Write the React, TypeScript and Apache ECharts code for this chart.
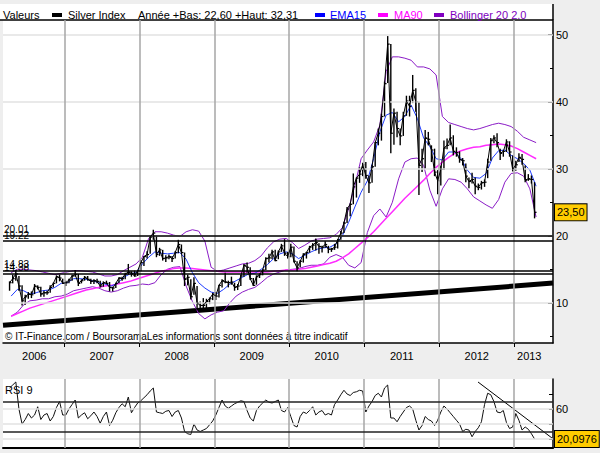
import React, { useEffect, useRef } from "react";
import * as echarts from "echarts";

const FONT = "'Liberation Sans', Arial, sans-serif";

// ---------- time axis ----------
const X_MIN = 2006.1833;
const X_MAX = 2013.5167;
const PRICE_START = 2006.25; // first half-month (April 2006)
const yearTicks = [2007, 2008, 2009, 2010, 2011, 2012, 2013];
const yearLabelPos = [2006.6, 2007.5, 2008.5, 2009.5, 2010.5, 2011.5, 2012.5, 2013.2];
const priceTicks = [10, 20, 30, 40, 50];
const priceMinorTicks = [5, 15, 25, 35, 45];
const rsiTicks = [20, 40, 60, 80];
const rsiLabels = [60];
const rsiGrid = [20, 40, 60];
const rsiBands = [70, 30];

// ---------- Silver Index, half-month bars [close, high, low] ----------
const price2006 = [
  [13.0, 13.2, 11.8], [13.6, 14.2, 12.9], [14.3, 14.9, 13.3], [12.5, 14.0, 11.8], [10.3, 12.6, 9.6], [10.9, 11.2, 9.7],
  [11.3, 11.6, 10.6], [11.2, 11.7, 10.7], [12.5, 12.8, 11.3], [12.3, 12.6, 12.0], [11.3, 12.4, 10.9], [11.5, 11.8, 10.9],
  [11.5, 11.8, 11.2], [12.3, 12.6, 11.5], [12.9, 13.0, 12.3], [13.9, 14.1, 12.9], [13.7, 14.2, 13.2], [12.9, 13.6, 12.8],
];
const price2007 = [
  [13.0, 13.3, 12.5], [13.4, 13.6, 12.9], [14.0, 14.2, 13.3], [14.2, 14.9, 13.9], [12.9, 14.3, 12.5], [13.3, 13.5, 12.9],
  [13.8, 14.0, 13.3], [13.5, 14.0, 13.3], [13.2, 13.6, 12.8], [13.3, 13.5, 12.8], [13.2, 13.6, 12.9], [12.5, 13.3, 12.3],
  [13.0, 13.2, 12.4], [12.9, 13.3, 12.8], [12.3, 13.1, 11.7], [12.2, 12.4, 11.7], [12.9, 13.0, 12.2], [13.7, 13.8, 12.9],
  [13.6, 13.9, 13.3], [14.3, 14.5, 13.5], [14.6, 15.8, 14.2], [14.4, 14.7, 13.9], [14.0, 14.8, 13.9], [14.8, 14.9, 14.0],
];
const price2008 = [
  [16.0, 16.4, 14.7], [16.9, 17.0, 15.5], [17.2, 17.7, 16.6], [19.8, 20.0, 17.3], [20.4, 20.9, 19.4], [17.2, 20.0, 16.8],
  [17.9, 18.2, 17.0], [16.6, 17.9, 16.3], [16.7, 17.1, 16.1], [16.9, 17.2, 16.5], [16.6, 17.0, 16.1], [17.5, 17.7, 16.6],
  [18.7, 19.4, 17.4], [17.5, 18.7, 17.3], [13.5, 17.5, 12.5], [13.8, 14.2, 12.6], [10.9, 13.5, 10.5], [12.9, 13.8, 11.2],
  [10.0, 12.5, 8.9], [9.6, 10.2, 8.8], [9.6, 10.7, 9.2], [10.2, 10.6, 9.1], [10.6, 10.8, 9.8], [11.3, 11.5, 10.4],
];
const price2009 = [
  [11.0, 11.6, 10.4], [12.6, 12.7, 10.8], [13.3, 13.5, 12.3], [13.1, 14.5, 12.9], [13.0, 13.3, 12.3], [13.1, 13.9, 12.7],
  [12.3, 13.0, 11.8], [12.5, 12.8, 11.9], [14.0, 14.2, 12.5], [15.6, 15.8, 13.9], [15.3, 16.0, 14.5], [13.6, 15.3, 13.4],
  [12.6, 13.7, 12.5], [13.9, 14.1, 12.7], [14.2, 14.4, 13.7], [14.9, 15.0, 14.1], [16.6, 16.8, 14.9], [16.7, 17.3, 16.0],
  [17.6, 17.9, 16.5], [16.3, 17.9, 16.2], [17.6, 17.8, 16.5], [18.5, 18.8, 17.6], [17.4, 19.5, 17.0], [16.9, 17.6, 16.6],
];
const price2010 = [
  [18.3, 18.8, 16.8], [16.2, 18.4, 16.0], [15.2, 16.2, 14.7], [16.2, 16.4, 15.3], [17.2, 17.4, 16.0], [17.5, 17.6, 16.6],
  [18.3, 18.5, 17.5], [18.6, 18.9, 17.9], [19.0, 19.6, 17.8], [18.4, 18.9, 17.3], [18.3, 18.5, 17.5], [18.7, 19.2, 18.2],
  [18.0, 18.5, 17.4], [18.0, 18.2, 17.6], [18.3, 18.8, 17.9], [19.4, 19.5, 18.1], [20.4, 20.7, 19.4], [21.9, 22.1, 20.4],
  [24.0, 24.3, 21.9], [24.7, 24.8, 22.9], [27.3, 29.3, 24.7], [28.6, 28.7, 25.7], [29.2, 30.2, 27.9], [30.6, 30.9, 28.9],
];
const price2011 = [
  [29.0, 31.0, 28.5], [27.9, 29.0, 26.4], [30.3, 30.6, 27.9], [33.9, 34.0, 30.3], [35.3, 36.0, 33.5], [37.8, 38.2, 34.2],
  [42.7, 43.0, 37.8], [48.6, 49.8, 42.8], [35.3, 48.6, 32.3], [38.3, 39.0, 33.6], [36.0, 38.5, 34.7], [34.9, 36.0, 33.5],
  [37.9, 38.5, 34.9], [40.1, 40.9, 37.9], [39.3, 40.9, 37.8], [41.7, 44.0, 39.8], [40.0, 42.0, 38.5], [30.5, 40.0, 26.1],
  [31.5, 33.0, 29.5], [34.6, 35.8, 30.0], [34.4, 35.5, 33.5], [32.8, 33.5, 31.0], [29.5, 33.0, 28.9], [28.2, 29.8, 26.2],
];
const price2012 = [
  [29.9, 30.5, 27.5], [33.1, 34.2, 29.8], [33.5, 34.5, 32.9], [34.6, 36.6, 33.5], [32.6, 35.0, 32.0], [32.4, 33.2, 31.8],
  [31.4, 32.6, 30.9], [31.2, 31.6, 30.5], [28.9, 30.8, 28.0], [28.1, 28.7, 27.1], [28.4, 29.4, 27.8], [27.4, 28.7, 26.2],
  [27.2, 27.8, 26.8], [27.9, 28.2, 26.9], [28.0, 28.4, 27.3], [31.0, 31.5, 28.6], [34.2, 34.6, 31.2], [34.6, 35.0, 33.8],
  [33.9, 35.3, 33.2], [32.3, 33.0, 31.3], [32.6, 32.8, 31.8], [34.0, 34.4, 32.5], [32.5, 34.1, 31.8], [29.9, 32.0, 29.6],
];
const price2013 = [
  [30.6, 31.2, 29.7], [31.7, 32.3, 31.0], [31.4, 32.2, 30.6], [28.3, 30.5, 28.0], [28.5, 29.2, 28.2], [28.4, 29.0, 27.8],
  [23.5, 28.0, 22.6],
];

// ---------- indicators, monthly (Apr 2006 .. Apr 2013) ----------
const ema15 = [
  11.0, 12.0, 11.8, 11.3, 11.5, 11.8, 11.9, 12.3, 12.9,
  13.0, 13.6, 13.6, 13.5, 13.3, 13.0, 12.8, 12.5, 12.9, 13.8, 14.3, 14.5,
  15.8, 16.8, 17.6, 17.4, 17.3, 17.4, 17.5, 16.5, 14.5, 13.0, 12.2, 11.6,
  11.4, 12.0, 12.8, 13.3, 13.8, 14.3, 14.4, 15.0, 15.7, 16.6, 17.3, 17.6,
  17.3, 16.6, 17.1, 17.6, 18.0, 18.2, 18.3, 18.8, 20.0, 22.0, 24.3, 26.5,
  28.2, 31.5, 35.5, 38.0, 38.4, 37.0, 37.8, 39.5, 37.5, 34.6, 33.3, 31.5,
  31.3, 32.5, 32.5, 31.5, 29.8, 28.7, 28.6, 29.3, 31.6, 32.7, 32.8, 32.0,
  31.5, 30.8, 29.8, 27.4,
];
const ma90 = [
  8.0, 8.4, 8.8, 9.2, 9.5, 9.8, 10.1, 10.4, 10.7,
  11.0, 11.3, 11.6, 11.9, 12.1, 12.3, 12.5, 12.6, 12.8, 13.0, 13.2, 13.5,
  13.8, 14.1, 14.4, 14.7, 14.9, 15.1, 15.2, 15.2, 15.1, 15.0, 14.9, 14.8,
  14.7, 14.6, 14.6, 14.6, 14.6, 14.6, 14.6, 14.6, 14.6, 14.7, 14.8, 14.9,
  14.9, 15.0, 15.1, 15.3, 15.5, 15.7, 15.9, 16.2, 16.7, 17.3, 18.1, 18.9,
  19.7, 20.6, 21.6, 22.6, 23.6, 24.6, 25.6, 26.5, 27.4, 28.3, 29.3, 30.2,
  31.0, 31.7, 32.3, 32.7, 33.0, 33.2, 33.3, 33.5, 33.6, 33.7, 33.6, 33.4,
  33.0, 32.5, 32.0, 31.5,
];
const bollUpper = [
  14.5, 15.0, 15.0, 14.9, 14.8, 14.6, 14.4, 14.2, 14.4,
  14.6, 14.8, 14.8, 14.7, 14.6, 14.3, 14.0, 14.0, 14.2, 14.8, 15.3, 15.8,
  16.8, 19.6, 20.6, 20.6, 20.4, 20.1, 19.9, 20.6, 20.9, 20.7, 19.2, 15.3,
  14.7, 14.9, 15.2, 15.5, 15.8, 15.9, 16.3, 17.0, 18.2, 19.1, 19.5, 19.6,
  19.0, 18.1, 18.6, 19.2, 19.5, 19.6, 19.7, 20.2, 21.2, 24.0, 27.5, 31.5,
  32.8, 34.0, 36.5, 44.5, 46.7, 46.7, 46.5, 46.2, 45.2, 45.2, 44.9, 44.0,
  37.8, 36.9, 36.6, 36.3, 36.0, 35.8, 36.0, 36.3, 36.6, 36.8, 36.6, 36.3,
  35.6, 34.7, 34.3, 33.9,
];
const bollLower = [
  8.0, 8.6, 9.7, 10.3, 10.4, 10.6, 10.6, 10.9, 11.0,
  11.3, 11.8, 12.0, 12.2, 12.4, 12.2, 11.8, 11.6, 11.8, 12.2, 12.5, 12.6,
  12.8, 12.7, 13.0, 14.2, 15.0, 15.3, 15.4, 12.5, 10.2, 8.4, 7.6, 8.2,
  8.6, 8.8, 10.0, 11.0, 11.6, 12.0, 12.3, 13.0, 13.8, 14.3, 14.6, 14.9,
  15.0, 15.1, 15.4, 15.6, 15.6, 15.8, 16.8, 17.2, 16.8, 15.6, 15.2, 16.0,
  20.5, 23.0, 24.0, 22.8, 25.0, 28.5, 31.0, 31.5, 31.6, 30.5, 26.8, 24.4,
  27.0, 28.5, 28.4, 28.0, 27.0, 25.8, 25.2, 24.6, 24.1, 25.4, 28.0, 29.3,
  29.4, 28.9, 27.0, 22.8,
];

// ---------- RSI 9, half-month ----------
const rsi9 = [
  88, 92, 96, 60, 40, 46, 54, 48, 52, 63, 46, 52, 54, 44, 50, 62, 70, 52,
  52, 60, 66, 72, 48, 52, 55, 47, 51, 56, 50, 41, 50, 56, 38, 45, 55, 62, 67, 63, 76, 55, 62, 68,
  71, 75, 79, 84, 88, 56, 55, 54, 57, 58, 50, 56, 58, 48, 30, 27, 26, 40, 32, 30, 32, 34, 39, 44,
  52, 62, 72, 64, 61, 64, 67, 69, 71, 70, 58, 48, 44, 58, 64, 68, 72, 69, 68, 70, 72, 58, 56, 62,
  50, 38, 36, 50, 56, 54, 58, 63, 52, 56, 58, 52, 54, 52, 66, 72, 79, 85, 80, 78, 82, 83, 85, 84,
  56, 64, 70, 78, 81, 76, 88, 92, 48, 48, 43, 50, 56, 62, 64, 60, 45, 32, 38, 50, 46, 44, 38, 45,
  56, 64, 60, 55, 50, 45, 40, 30, 33, 32, 23, 30, 35, 43, 66, 81, 79, 70, 56, 55, 58, 42, 34, 36,
  54, 45, 32, 36, 33, 27, 20.0976,
];

// ---------- drawn levels ----------
const levels = [20.01, 19.22, 14.83, 14.38];
const supportLine = [[2006.1833, 6.64], [2013.5167, 12.94]];
const rsiTrend = [[2012.517, 96], [2013.503, 21.3]];

const legendTexts = {
  values: "Valeurs",
  name: "Silver Index",
  range: "Année +Bas: 22,60 +Haut: 32,31",
  ema: "EMA15",
  ma: "MA90",
  boll: "Bollinger 20 2.0",
};

export default function App() {
  const ref = useRef<HTMLDivElement>(null);
  useEffect(() => {
    if (!ref.current) return;
    const chart = echarts.init(ref.current, undefined, { renderer: "svg" });

    const rows = [...price2006, ...price2007, ...price2008, ...price2009, ...price2010, ...price2011, ...price2012, ...price2013];
    const half = (i: number) => PRICE_START + (i + 0.5) / 24;
    const month = (k: number) => PRICE_START + (k + 0.5) / 12;
    const barData = rows.map((r, i) => [half(i), r[0], r[1], r[2]]);
    const closeData = rows.map((r, i) => [half(i), r[0]]);
    const mk = (arr: number[]) => arr.map((v, k) => [month(k), v]);
    const rsiData = rsi9.map((v, i) => [half(i), v]);
    const lastPrice = rows[rows.length - 1][0];
    const lastRsi = rsi9[rsi9.length - 1];

    const BLUE = "#1e3cff";
    const MAG = "#ff2cff";
    const PURP = "#8a1cc6";
    const VGRID = "#a6a6a6";
    const HGRID = "#e2e2e2";
    const CLEAR = "rgba(0,0,0,0)";

    const yearLines = yearTicks.map((y) => ({ xAxis: y, lineStyle: { color: VGRID, width: 1.5, type: "solid" as const } }));

    const txt = (x: number, y: number, text: string, fill = "#000", size = 11) => ({
      type: "text",
      x,
      y,
      silent: true,
      style: { text, fill, fontSize: size, fontFamily: FONT, verticalAlign: "middle" },
    });
    const box = (x: number, color: string) => ({
      type: "rect",
      silent: true,
      shape: { x, y: 13, width: 10, height: 4 },
      style: { fill: color },
    });
    const valueTag = (v: number, text: string) => ({
      yAxis: v,
      lineStyle: { color: CLEAR, width: 0, opacity: 1 },
      label: {
        show: true, position: "end", distance: 2, formatter: text,
        backgroundColor: "#ffcc00", borderColor: "#000", borderWidth: 1, padding: [3, 2, 2, 2],
        color: "#000", fontSize: 11, fontFamily: FONT, opacity: 1,
      },
    });

    const option: any = {
      animation: false,
      backgroundColor: "#eeeeee",
      textStyle: { fontFamily: FONT },
      grid: [
        { left: 3, right: 47, top: 20, height: 323, show: true, backgroundColor: "#ffffff", borderWidth: 0 },
        { left: 3, right: 47, top: 379, height: 69, show: true, backgroundColor: "#ffffff", borderWidth: 0 },
      ],
      xAxis: [
        {
          type: "value", gridIndex: 0, min: X_MIN, max: X_MAX, position: "bottom",
          axisLine: { show: true, onZero: false, lineStyle: { color: "#000", width: 1.5 } },
          axisTick: { show: true, customValues: yearTicks, inside: false, length: 4, lineStyle: { color: "#000" } },
          axisLabel: {
            show: true, customValues: yearLabelPos, margin: 7, fontSize: 11, color: "#000", fontFamily: FONT,
            formatter: (v: number) => String(Math.floor(v + 1e-6)),
          },
          splitLine: { show: false },
        },
        {
          type: "value", gridIndex: 1, min: X_MIN, max: X_MAX, position: "bottom",
          axisLine: { show: true, onZero: false, lineStyle: { color: "#000", width: 2 } },
          axisTick: { show: false }, axisLabel: { show: false }, splitLine: { show: false },
        },
      ],
      yAxis: [
        {
          type: "value", gridIndex: 0, min: 4, max: 52.2, position: "right",
          axisLine: { show: true, lineStyle: { color: "#000", width: 1.5 } },
          axisTick: { show: true, customValues: priceTicks, inside: true, length: 5, lineStyle: { color: "#000" } },
          axisLabel: { show: true, customValues: priceTicks, margin: 3, fontSize: 11, color: "#000", fontFamily: FONT },
          splitLine: { show: false },
        },
        {
          type: "value", gridIndex: 0, min: 4, max: 52.2, position: "right",
          axisLine: { show: false },
          axisTick: { show: true, customValues: priceMinorTicks, inside: true, length: 3, lineStyle: { color: "#000" } },
          axisLabel: { show: false }, splitLine: { show: false },
        },
        {
          type: "value", gridIndex: 1, min: 8, max: 100, position: "right",
          axisLine: { show: true, lineStyle: { color: "#000", width: 1.5 } },
          axisTick: { show: true, customValues: rsiTicks, inside: true, length: 4, lineStyle: { color: "#000" } },
          axisLabel: { show: true, customValues: rsiLabels, margin: 3, fontSize: 11, color: "#000", fontFamily: FONT },
          splitLine: { show: false },
        },
      ],
      graphic: [
        { type: "rect", silent: true, shape: { x: 0, y: 4, width: 553, height: 16 }, style: { fill: "#ffffff" } },
        { type: "line", silent: true, shape: { x1: 0, y1: 20, x2: 553, y2: 20 }, style: { stroke: "#000", lineWidth: 1.5 } },
        { type: "line", silent: true, shape: { x1: 553, y1: 4, x2: 553, y2: 20 }, style: { stroke: "#000", lineWidth: 1.5 } },
        txt(3, 15, legendTexts.values),
        box(52, "#000"),
        txt(68, 15, legendTexts.name),
        txt(138, 15, legendTexts.range),
        box(315, "#0000ff"),
        txt(330, 15, legendTexts.ema, "#0000ff"),
        box(378, "#ff00ff"),
        txt(394, 15, legendTexts.ma, "#ff00ff"),
        box(434, "#8000c0"),
        txt(450, 15, legendTexts.boll, "#8000c0"),
        txt(5, 336, "© IT-Finance.com / BoursoramaLes informations sont données à titre indicatif", "#000", 10),
        txt(5, 390, "RSI 9"),
      ],
      series: [
        {
          name: "grid-main", type: "line", xAxisIndex: 0, yAxisIndex: 0, data: [[X_MIN, 0]], showSymbol: false,
          lineStyle: { opacity: 0 }, silent: true, z: 1,
          markLine: {
            silent: true, symbol: ["none", "none"], label: { show: false },
            data: [
              ...priceTicks.map((v) => ({ yAxis: v, lineStyle: { color: HGRID, width: 1.5, type: "solid" } })),
              ...yearLines,
            ],
          },
        },
        {
          name: "grid-rsi", type: "line", xAxisIndex: 1, yAxisIndex: 2, data: [[X_MIN, 0]], showSymbol: false,
          lineStyle: { opacity: 0 }, silent: true, z: 1,
          markLine: {
            silent: true, symbol: ["none", "none"], label: { show: false },
            data: [
              ...rsiGrid.map((v) => ({ yAxis: v, lineStyle: { color: HGRID, width: 1.5, type: "solid" } })),
              ...yearLines,
              ...rsiBands.map((v) => ({ yAxis: v, lineStyle: { color: "#222", width: 1.5, type: "solid" } })),
            ],
          },
        },
        {
          name: "support", type: "line", xAxisIndex: 0, yAxisIndex: 0, data: supportLine, showSymbol: false,
          lineStyle: { color: "#000", width: 5 }, z: 2, silent: true,
        },
        { name: "Boll up", type: "line", data: mk(bollUpper), showSymbol: false, lineStyle: { color: PURP, width: 1 }, z: 3, silent: true },
        { name: "Boll low", type: "line", data: mk(bollLower), showSymbol: false, lineStyle: { color: PURP, width: 1 }, z: 3, silent: true },
        { name: "MA90", type: "line", data: mk(ma90), showSymbol: false, lineStyle: { color: MAG, width: 1.5 }, z: 3, silent: true },
        { name: "EMA15", type: "line", data: mk(ema15), showSymbol: false, lineStyle: { color: BLUE, width: 1 }, z: 3, silent: true },
        {
          name: "bars", type: "custom", xAxisIndex: 0, yAxisIndex: 0, data: barData, z: 4, silent: true,
          encode: { x: 0, y: [1, 2, 3] },
          renderItem: (_p: any, api: any) => {
            const x = api.value(0);
            const top = api.coord([x, api.value(2)]);
            const bot = api.coord([x, api.value(3)]);
            const c = api.coord([x, api.value(1)]);
            return {
              type: "group",
              children: [
                { type: "line", shape: { x1: top[0], y1: top[1], x2: bot[0], y2: bot[1] }, style: { stroke: "#000", lineWidth: 1.4 } },
                { type: "line", shape: { x1: c[0], y1: c[1], x2: c[0] + 2, y2: c[1] }, style: { stroke: "#000", lineWidth: 1.2 } },
              ],
            };
          },
        },
        {
          name: "Silver Index", type: "line", xAxisIndex: 0, yAxisIndex: 0, data: closeData, showSymbol: false,
          lineStyle: { color: "#000", width: 1 }, z: 5, silent: true, clip: false,
          markLine: {
            silent: true, symbol: ["none", "none"],
            data: [
              ...levels.map((v) => ({
                yAxis: v,
                lineStyle: { color: "#000", width: 1.5, type: "solid" },
                label: { show: true, position: "insideStartTop", formatter: v.toFixed(2), color: "#000", fontSize: 10, fontFamily: FONT, distance: 1 },
              })),
              valueTag(lastPrice, lastPrice.toFixed(2).replace(".", ",")),
            ],
          },
        },
        {
          name: "RSI 9", type: "line", xAxisIndex: 1, yAxisIndex: 2, data: rsiData, showSymbol: false,
          lineStyle: { color: "#111", width: 1 }, z: 4, silent: true, clip: false,
          markLine: {
            silent: true, symbol: ["none", "none"],
            data: [valueTag(lastRsi, lastRsi.toFixed(4).replace(".", ","))],
          },
        },
        {
          name: "RSI trend", type: "line", xAxisIndex: 1, yAxisIndex: 2, data: rsiTrend, showSymbol: false,
          lineStyle: { color: "#000", width: 1 }, z: 4, silent: true,
        },
      ],
    };
    chart.setOption(option);
    return () => chart.dispose();
  }, []);
  return <div ref={ref} style={{ position: "absolute", left: 0, top: 0, width: 600, height: 453 }} />;
}
